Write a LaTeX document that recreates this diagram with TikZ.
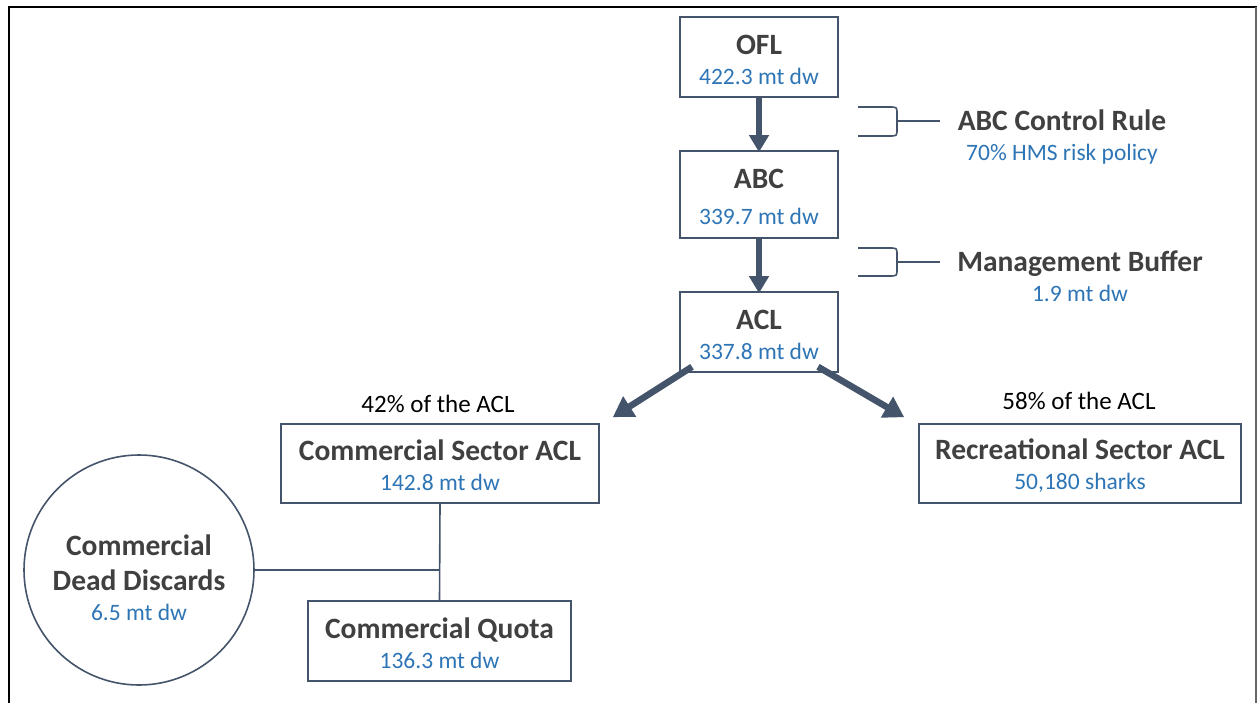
\documentclass[tikz,border=0pt]{standalone}
\usepackage{fontspec}
\setmainfont{Carlito}
\usepackage{xcolor}
\usetikzlibrary{arrows.meta,calc,positioning,shapes.geometric}
\definecolor{slate}{HTML}{44546A}
\definecolor{darktext}{HTML}{404040}
\definecolor{hmsblue}{HTML}{2E75B6}
\newcommand{\titlefont}{\fontsize{29.5}{30}\selectfont\bfseries}
\newcommand{\valuefont}{\fontsize{23.5}{30}\selectfont\mdseries\color{hmsblue}}
\newcommand{\limbox}[3][0pt]{{\titlefont\rule{0pt}{25pt}#2}\\[#1]{\valuefont #3}}

\begin{document}
\begin{tikzpicture}[
    x=1pt, y=-1pt,
    limit/.style={draw=slate, line width=1.6pt, rectangle, align=center,
        text=darktext, inner sep=0, minimum height=80pt,
        font=\fontsize{29.5}{30}\selectfont},
    pool/.style={draw=slate, line width=1.6pt, circle, inner sep=0, minimum size=230pt},
    flow/.style={draw=slate, line width=6pt, -{Triangle[width=19pt,length=17pt]}},
    split/.style={draw=slate, line width=6.5pt, -{Triangle[width=23pt,length=20pt]}},
    bracket/.style={draw=slate, line width=1.6pt},
    tie/.style={draw=slate, line width=1.6pt},
    note/.style={align=center, text=darktext, inner sep=0,
        font=\fontsize{29.5}{30}\selectfont},
    share/.style={text=black, inner sep=0, font=\fontsize{25}{30}\selectfont}]
\useasboundingbox (0,0) rectangle (1257,703);
\fill[white] (0,0) rectangle (1257,703);
% frame
\draw[black, line width=2.5pt] (9,703) -- (9,7) -- (1257,7);
\draw[gray!80!black, line width=1.5pt] (1256,7) -- (1256,703);

% limits
\node[limit, minimum width=158pt] (ofl) at (759,57) {\limbox{OFL}{422.3 mt dw}};
\node[limit, minimum width=158pt, minimum height=87pt] (abc) at (759,194.5) {\limbox[6pt]{ABC}{339.7 mt dw}};
\node[limit, minimum width=158pt] (acl) at (759,332) {\limbox{ACL}{337.8 mt dw}};
\node[limit, minimum width=318pt, minimum height=79pt] (comacl) at (440,463.5) {\limbox{Commercial Sector ACL}{142.8 mt dw}};
\node[limit, minimum width=322pt, minimum height=79pt] (recacl) at (1080,463.5) {\limbox{Recreational Sector ACL}{50,180 sharks}};
\node[limit, minimum width=263pt] (quota) at (439.5,641) {\limbox{Commercial Quota}{136.3 mt dw}};
\node[pool] (discards) at (139,570) {};
\node[note] (discardstext) at (139,578) {{\titlefont Commercial}\\[5pt]{\titlefont Dead Discards}\\{\valuefont 6.5 mt dw}};

% shares
\node[share] (comshare) at (438,404) {42\% of the ACL};
\node[share] (recshare) at (1079,401) {58\% of the ACL};

% adjustments
\node[note] (rule) at (1062,135) {\limbox{ABC Control Rule}{70\% HMS risk policy}};
\node[note] (buffer) at (1080,274) {\limbox{Management Buffer}{1.9 mt dw}};

% brackets
\draw[bracket] (858,107) -- (889,107) .. controls (897,107) .. (897,114) -- (897,129)
    .. controls (897,136) .. (889,136) -- (858,136);
\draw[bracket] (858,248) -- (889,248) .. controls (897,248) .. (897,255) -- (897,269)
    .. controls (897,276) .. (889,276) -- (858,276);
\coordinate (rulefoot) at (897,121);
\coordinate (bufferfoot) at (897,262);
\draw[bracket] (rulefoot) -- (rulefoot -| 940,0);
\draw[bracket] (bufferfoot) -- (bufferfoot -| 940,0);

% flows
\coordinate (comtip) at ([shift={(13pt,6pt)}]comacl.north east);
\coordinate (rectip) at ([shift={(-14pt,6pt)}]recacl.north west);
\draw[flow] (ofl.south) -- ([yshift=-2pt]abc.north);
\draw[flow] (abc.south) -- ([yshift=-2pt]acl.north);
\draw[split] ([shift={(-67pt,6pt)}]acl.south) -- (comtip);
\draw[split] ([shift={(59pt,6pt)}]acl.south) -- (rectip);

% quota
\draw[tie] (comacl.south) -- (quota.north);
\draw[tie] (discards.east) -- (discards.east -| quota.north);

\end{tikzpicture}
\end{document}
